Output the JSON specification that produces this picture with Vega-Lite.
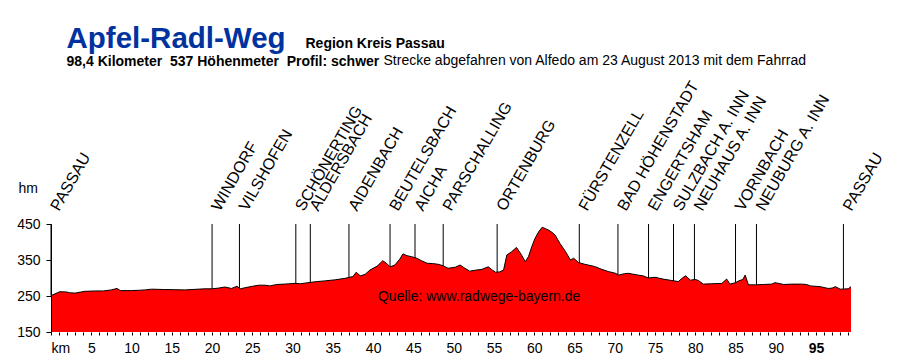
{
  "$schema": "https://vega.github.io/schema/vega-lite/v6.json",
  "width": 800,
  "height": 108,
  "autosize": {"type": "none"},
  "padding": {"left": 51, "top": 224, "right": 49, "bottom": 24},
  "background": "white",
  "config": {
    "view": {"stroke": null},
    "font": "Liberation Sans",
    "axis": {"labelFont": "Liberation Sans", "titleFont": "Liberation Sans", "grid": false},
    "title": {"font": "Liberation Sans", "subtitleFont": "Liberation Sans"}
  },
  "title": {
    "text": "Apfel-Radl-Weg",
    "subtitle": "98,4 Kilometer\u00a0\u00a0537 Höhenmeter\u00a0\u00a0Profil: schwer",
    "anchor": "start",
    "frame": "group",
    "dx": 15.5,
    "offset": -34,
    "fontSize": 29.5,
    "fontWeight": "bold",
    "color": "#0033A0",
    "subtitleFontSize": 14,
    "subtitleFontWeight": "bold",
    "subtitleColor": "black",
    "subtitlePadding": 1
  },
  "datasets": {
    "profile": [
      {"km": 0, "elev": 251}, {"km": 0.5, "elev": 256}, {"km": 1.1, "elev": 262}, {"km": 2.0, "elev": 261},
      {"km": 2.3, "elev": 259}, {"km": 3.0, "elev": 258}, {"km": 4.2, "elev": 263}, {"km": 5.5, "elev": 264},
      {"km": 6.5, "elev": 264}, {"km": 7.5, "elev": 267}, {"km": 8.2, "elev": 271}, {"km": 8.6, "elev": 265},
      {"km": 10.0, "elev": 265}, {"km": 11.0, "elev": 266}, {"km": 11.7, "elev": 267}, {"km": 12.5, "elev": 269},
      {"km": 14.0, "elev": 268}, {"km": 16.6, "elev": 267}, {"km": 17.5, "elev": 268}, {"km": 19.1, "elev": 270},
      {"km": 20.0, "elev": 270}, {"km": 20.8, "elev": 272}, {"km": 21.6, "elev": 275}, {"km": 22.4, "elev": 271},
      {"km": 23.1, "elev": 277}, {"km": 23.5, "elev": 270}, {"km": 24.1, "elev": 273}, {"km": 25.0, "elev": 277},
      {"km": 25.8, "elev": 280}, {"km": 26.6, "elev": 280}, {"km": 27.2, "elev": 278}, {"km": 28.0, "elev": 282},
      {"km": 29.0, "elev": 283}, {"km": 30.3, "elev": 285}, {"km": 31.0, "elev": 284}, {"km": 31.9, "elev": 287},
      {"km": 33.0, "elev": 290}, {"km": 34.0, "elev": 292}, {"km": 35.3, "elev": 295}, {"km": 36.5, "elev": 299},
      {"km": 37.5, "elev": 304}, {"km": 37.9, "elev": 316}, {"km": 38.4, "elev": 306}, {"km": 39.0, "elev": 310},
      {"km": 39.6, "elev": 322}, {"km": 40.5, "elev": 333}, {"km": 41.2, "elev": 348}, {"km": 41.7, "elev": 340},
      {"km": 42.1, "elev": 331}, {"km": 42.7, "elev": 336}, {"km": 43.3, "elev": 352}, {"km": 43.7, "elev": 367},
      {"km": 44.2, "elev": 362}, {"km": 44.8, "elev": 359}, {"km": 45.4, "elev": 355}, {"km": 46.0, "elev": 348},
      {"km": 46.7, "elev": 341}, {"km": 47.4, "elev": 340}, {"km": 48.1, "elev": 338}, {"km": 48.7, "elev": 334},
      {"km": 49.3, "elev": 327}, {"km": 50.2, "elev": 330}, {"km": 50.8, "elev": 336}, {"km": 51.4, "elev": 327},
      {"km": 52.0, "elev": 319}, {"km": 52.8, "elev": 322}, {"km": 53.5, "elev": 324}, {"km": 54.3, "elev": 331},
      {"km": 54.8, "elev": 322}, {"km": 55.2, "elev": 316}, {"km": 55.7, "elev": 317}, {"km": 56.2, "elev": 322},
      {"km": 56.6, "elev": 364}, {"km": 57.2, "elev": 373}, {"km": 57.8, "elev": 385}, {"km": 58.4, "elev": 365},
      {"km": 58.9, "elev": 345}, {"km": 59.3, "elev": 360}, {"km": 59.7, "elev": 387}, {"km": 60.1, "elev": 410},
      {"km": 60.6, "elev": 430}, {"km": 61.0, "elev": 441}, {"km": 61.4, "elev": 437}, {"km": 61.8, "elev": 433},
      {"km": 62.2, "elev": 427}, {"km": 62.6, "elev": 419}, {"km": 63.2, "elev": 396}, {"km": 63.9, "elev": 373},
      {"km": 64.5, "elev": 350}, {"km": 64.9, "elev": 355}, {"km": 65.5, "elev": 343}, {"km": 66.3, "elev": 338},
      {"km": 66.7, "elev": 336}, {"km": 67.5, "elev": 332}, {"km": 68.4, "elev": 324}, {"km": 69.2, "elev": 318},
      {"km": 70.1, "elev": 313}, {"km": 70.5, "elev": 308}, {"km": 71.2, "elev": 312}, {"km": 71.7, "elev": 313},
      {"km": 72.9, "elev": 308}, {"km": 73.5, "elev": 306}, {"km": 74.2, "elev": 300}, {"km": 75.0, "elev": 302},
      {"km": 76.0, "elev": 297}, {"km": 77.1, "elev": 293}, {"km": 77.9, "elev": 290}, {"km": 78.4, "elev": 300},
      {"km": 78.8, "elev": 306}, {"km": 79.4, "elev": 294}, {"km": 80.0, "elev": 296}, {"km": 80.4, "elev": 293},
      {"km": 81.0, "elev": 283}, {"km": 82.0, "elev": 284}, {"km": 83.3, "elev": 285}, {"km": 83.9, "elev": 297},
      {"km": 84.3, "elev": 283}, {"km": 85.0, "elev": 287}, {"km": 85.4, "elev": 292}, {"km": 85.9, "elev": 296},
      {"km": 86.2, "elev": 308}, {"km": 86.6, "elev": 281}, {"km": 87.5, "elev": 281}, {"km": 88.5, "elev": 282},
      {"km": 89.5, "elev": 283}, {"km": 89.9, "elev": 287}, {"km": 91.0, "elev": 282}, {"km": 92.0, "elev": 283},
      {"km": 93.2, "elev": 283}, {"km": 93.8, "elev": 282}, {"km": 94.3, "elev": 278}, {"km": 95.5, "elev": 276},
      {"km": 96.5, "elev": 271}, {"km": 97.0, "elev": 272}, {"km": 97.4, "elev": 276}, {"km": 98.0, "elev": 269},
      {"km": 99.0, "elev": 270}, {"km": 99.34, "elev": 276}
    ],
    "places": [
      {"name": "PASSAU", "km": 0, "elev": 251},
      {"name": "WINDORF", "km": 20.0, "elev": 270},
      {"name": "VILSHOFEN", "km": 23.4, "elev": 271},
      {"name": "SCHÖNERTING", "km": 30.4, "elev": 285},
      {"name": "ALDERSBACH", "km": 32.2, "elev": 288},
      {"name": "AIDENBACH", "km": 37.0, "elev": 302},
      {"name": "BEUTELSBACH", "km": 42.1, "elev": 331},
      {"name": "AICHA", "km": 45.2, "elev": 356},
      {"name": "PARSCHALLING", "km": 48.7, "elev": 334},
      {"name": "ORTENBURG", "km": 55.4, "elev": 316},
      {"name": "FÜRSTENZELL", "km": 65.6, "elev": 342},
      {"name": "BAD HÖHENSTADT", "km": 70.4, "elev": 309},
      {"name": "ENGERTSHAM", "km": 74.2, "elev": 300},
      {"name": "SULZBACH A. INN", "km": 77.3, "elev": 292},
      {"name": "NEUHAUS A. INN", "km": 79.9, "elev": 296},
      {"name": "VORNBACH", "km": 85.0, "elev": 287},
      {"name": "NEUBURG A. INN", "km": 87.6, "elev": 281},
      {"name": "PASSAU", "km": 98.4, "elev": 270}
    ],
    "notes": [{"source": "Quelle: www.radwege-bayern.de"}]
  },
  "resolve": {"axis": {"x": "independent", "y": "independent"}},
  "layer": [
    {
      "data": {"name": "profile"},
      "mark": {"type": "area", "color": "#FF0000", "opacity": 1, "clip": true, "line": {"color": "black", "strokeWidth": 1}},
      "encoding": {
        "x": {
          "field": "km", "type": "quantitative",
          "scale": {"domain": [0, 99.34], "nice": false, "zero": false},
          "axis": {
            "orient": "bottom", "title": null, "domain": false,
            "values": [0,1,2,3,4,5,6,7,8,9,10,11,12,13,14,15,16,17,18,19,20,21,22,23,24,25,26,27,28,29,30,31,32,33,34,35,36,37,38,39,40,41,42,43,44,45,46,47,48,49,50,51,52,53,54,55,56,57,58,59,60,61,62,63,64,65,66,67,68,69,70,71,72,73,74,75,76,77,78,79,80,81,82,83,84,85,86,87,88,89,90,91,92,93,94,95,96,97,98,99],
            "labelExpr": "datum.value == 0 ? 'km' : (datum.value % 5 == 0 ? datum.label : '')",
            "labelAlign": {"condition": {"test": "datum.value == 0", "value": "left"}, "value": "center"},
            "labelFontWeight": {"condition": {"test": "datum.value == 95", "value": "bold"}, "value": "normal"},
            "labelOverlap": false, "labelBound": false, "labelFlush": false,
            "labelFontSize": 14, "labelColor": "black", "labelPadding": 6, "labelBaseline": "top",
            "tickSize": 3, "tickColor": "black", "tickWidth": 1
          }
        },
        "y": {
          "field": "elev", "type": "quantitative",
          "scale": {"domain": [150, 450], "nice": false, "zero": false},
          "axis": {
            "orient": "left", "values": [150, 250, 350, 450], "zindex": 1,
            "title": "hm", "titleAngle": 0, "titleX": -33, "titleY": -32, "titleAlign": "left", "titleBaseline": "alphabetic",
            "titleFontSize": 14, "titleFontWeight": "normal", "titleColor": "black",
            "labelFontSize": 14, "labelColor": "black", "labelPadding": 6,
            "tickSize": 5, "tickColor": "black", "domainColor": "black"
          }
        }
      }
    },
    {
      "data": {"name": "places"},
      "mark": {"type": "rule", "color": "black", "strokeWidth": 1},
      "encoding": {
        "x": {
          "field": "km", "type": "quantitative",
          "scale": {"domain": [0, 99.34], "nice": false, "zero": false},
          "axis": {
            "orient": "top", "labels": false, "ticks": false, "domain": false,
            "title": "Region Kreis Passau", "titleX": 254, "titleY": -177, "titleAngle": 0,
            "titleAlign": "left", "titleBaseline": "alphabetic", "titleFontSize": 14, "titleFontWeight": "bold", "titleColor": "black"
          }
        },
        "y": {
          "field": "elev", "type": "quantitative",
          "scale": {"domain": [150, 450], "nice": false, "zero": false},
          "axis": {
            "orient": "right", "labels": false, "ticks": false, "domain": false,
            "title": "Strecke abgefahren von Alfedo am 23 August 2013 mit dem Fahrrad",
            "titleX": -468, "titleY": -160, "titleAngle": 0, "titleAlign": "left", "titleBaseline": "alphabetic",
            "titleFontSize": 14, "titleFontWeight": "normal", "titleColor": "black"
          }
        },
        "y2": {"datum": 450}
      }
    },
    {
      "data": {"name": "places"},
      "mark": {"type": "text", "angle": 300, "align": "left", "baseline": "alphabetic", "dx": 14.4, "dy": 0.9, "fontSize": 16, "font": "Liberation Sans", "color": "black"},
      "encoding": {
        "x": {"field": "km", "type": "quantitative", "scale": {"domain": [0, 99.34], "nice": false, "zero": false}, "axis": null},
        "y": {"datum": 450, "type": "quantitative", "scale": {"domain": [150, 450], "nice": false, "zero": false}, "axis": null},
        "text": {"field": "name"}
      }
    },
    {
      "data": {"name": "notes"},
      "mark": {"type": "text", "align": "left", "baseline": "alphabetic", "fontSize": 14, "font": "Liberation Sans", "color": "black"},
      "encoding": {
        "x": {"datum": 40.6, "type": "quantitative", "scale": {"domain": [0, 99.34], "nice": false, "zero": false}, "axis": null},
        "y": {"datum": 236, "type": "quantitative", "scale": {"domain": [150, 450], "nice": false, "zero": false}, "axis": null},
        "text": {"field": "source"}
      }
    }
  ]
}
